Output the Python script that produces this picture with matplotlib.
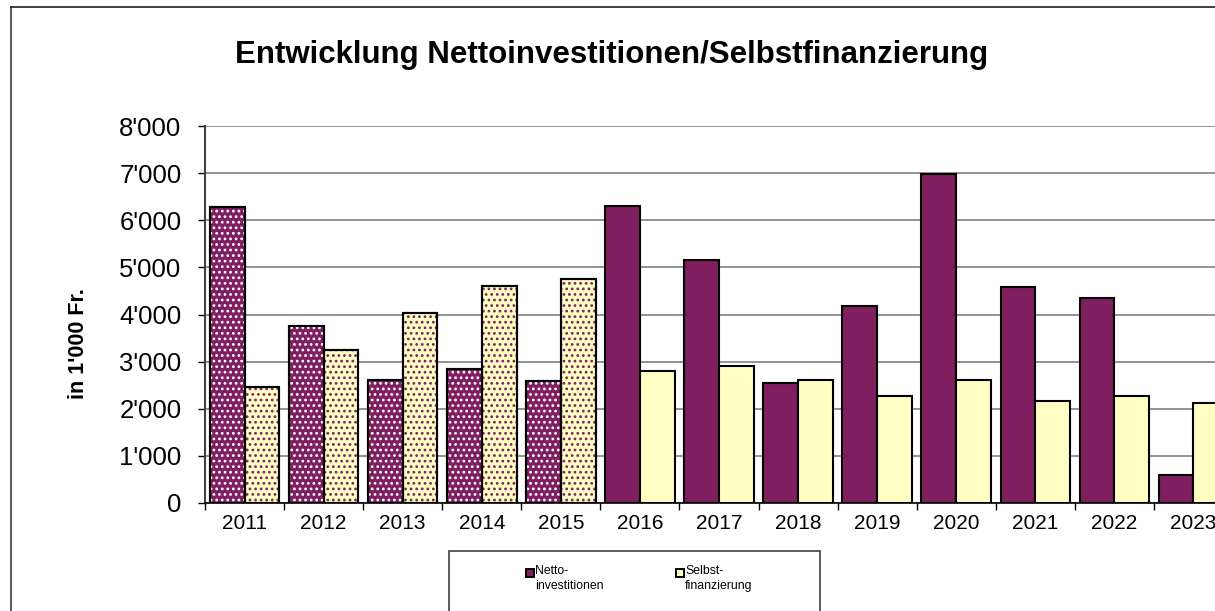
import numpy as np
import matplotlib
matplotlib.use('Agg')
import matplotlib.pyplot as plt
from matplotlib.patches import Rectangle
from matplotlib.lines import Line2D

plt.rcParams['font.family'] = ['Liberation Sans', 'DejaVu Sans']
plt.rcParams['hatch.linewidth'] = 1.2

# data (in 1'000 Fr.)
years = ['2011', '2012', '2013', '2014', '2015', '2016', '2017',
         '2018', '2019', '2020', '2021', '2022', '2023']
netto = [6290, 3760, 2620, 2850, 2590, 6300, 5160,
         2540, 4190, 6990, 4580, 4340, 600]
selbst = [2460, 3250, 4040, 4600, 4750, 2810, 2910,
          2600, 2260, 2620, 2160, 2280, 2130]
# the first five years are drawn with a dotted pattern
n_dotted = 5

purple = '#7f1f5f'
yellow = '#ffffc4'

W, H = 1215, 611
fig = plt.figure(figsize=(W / 100, H / 100), dpi=100)

# outer chart frame (only top and left visible)
fig.add_artist(Line2D([11 / W, 11 / W], [0, 1 - 7 / H], transform=fig.transFigure,
                      color='#404040', lw=1.2))
fig.add_artist(Line2D([11 / W, 1], [1 - 7 / H, 1 - 7 / H], transform=fig.transFigure,
                      color='#202020', lw=1.2))

ax = fig.add_axes([205 / W, 108 / H, 1028 / W, 377 / H])

x = np.arange(len(years))
bw = 0.44
for i in range(len(years)):
    ax.bar(x[i] - bw / 2, netto[i], bw, color=purple, edgecolor='black',
           linewidth=1.5, zorder=3)
    ax.bar(x[i] + bw / 2, selbst[i], bw, color=yellow, edgecolor='black',
           linewidth=1.5, zorder=3)
    if i < n_dotted:
        ax.bar(x[i] - bw / 2, netto[i], bw, fill=False, edgecolor='white',
               hatch='...', linewidth=0, zorder=4)
        ax.bar(x[i] + bw / 2, selbst[i], bw, fill=False, edgecolor=purple,
               hatch='...', linewidth=0, zorder=4)
        ax.bar(x[i] - bw / 2, netto[i], bw, fill=False, edgecolor='black',
               linewidth=1.5, zorder=5)
        ax.bar(x[i] + bw / 2, selbst[i], bw, fill=False, edgecolor='black',
               linewidth=1.5, zorder=5)

ax.set_xlim(-0.5, len(years) - 0.5)
ax.set_ylim(0, 8000)
ax.set_yticks(np.arange(0, 8001, 1000))
ax.set_yticklabels([f"{v:,}".replace(',', "'") for v in range(0, 8001, 1000)],
                   fontsize=18.5)
ax.set_xticks(x)
ax.set_xticklabels(years, fontsize=15)
ax.set_xticks(np.arange(-0.5, len(years), 1), minor=True)
ax.tick_params(axis='x', which='major', length=0, pad=8)
ax.tick_params(axis='x', which='minor', length=5, direction='out', width=1)
ax.tick_params(axis='y', length=5, direction='out', width=1, pad=12)
ax.yaxis.grid(True, color='#808080', linewidth=1.2, zorder=0)
ax.set_axisbelow(True)
for s in ['top', 'right']:
    ax.spines[s].set_visible(False)
ax.spines['left'].set_color('#404040')
ax.spines['left'].set_linewidth(1.5)
ax.spines['bottom'].set_linewidth(1.2)

fig.text(78 / W, 1 - 344 / H, "in 1'000 Fr.", rotation=90, ha='center', va='center',
         fontsize=15.5, fontweight='bold')
fig.text(612 / W, 1 - 55 / H, 'Entwicklung Nettoinvestitionen/Selbstfinanzierung',
         ha='center', va='center', fontsize=22.5, fontweight='bold')

# legend box
fig.add_artist(Rectangle((449 / W, -0.01), (820 - 449) / W, (H - 551) / H + 0.01,
                         transform=fig.transFigure, facecolor='white',
                         edgecolor='#404040', lw=1.2))
legend_items = [(purple, 'Netto-\ninvestitionen', 526), (yellow, 'Selbst-\nfinanzierung', 676)]
for col, lab, px in legend_items:
    fig.add_artist(Rectangle((px / W, 1 - 577 / H), 8 / W, 8 / H,
                             transform=fig.transFigure, facecolor=col,
                             edgecolor='black', lw=1.4))
    fig.text((px + 9) / W, 1 - 565 / H, lab, ha='left', va='top', fontsize=8.8,
             linespacing=1.3)

fig.savefig('out.png', dpi=100)
